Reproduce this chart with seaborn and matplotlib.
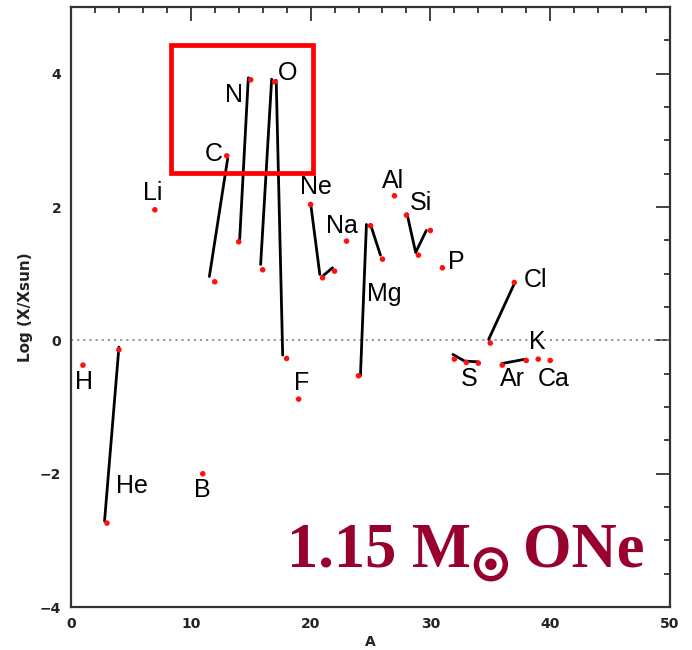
import matplotlib
matplotlib.use("Agg")
import matplotlib.pyplot as plt
import matplotlib.patches as mpatches
import matplotlib.patheffects as pe
from matplotlib.ticker import MultipleLocator
import numpy as np
import pandas as pd
import seaborn as sns

# Isotope abundances relative to solar: mass number and log overproduction
iso_A = [1, 3, 4, 7, 11, 12, 13, 14, 15, 16, 17, 18, 19, 20, 21, 22, 23,
         24, 25, 26, 27, 28, 29, 30, 31, 32, 33, 34, 35, 36, 37, 38, 39, 40]
iso_logx = [-0.37, -2.74, -0.14, 1.96, -2.00, 0.88, 2.77, 1.48, 3.91, 1.06,
            3.88, -0.27, -0.88, 2.04, 0.94, 1.04, 1.49, -0.53, 1.72, 1.22,
            2.17, 1.88, 1.28, 1.65, 1.09, -0.28, -0.33, -0.34, -0.04, -0.37,
            0.87, -0.30, -0.28, -0.30]

# Connecting segments between isotopes of the same element
seg_id = ["He", "He", "C", "C", "N", "N", "Oa", "Oa", "Ob", "Ob",
          "Nea", "Nea", "Neb", "Neb", "Mga", "Mga", "Mgb", "Mgb",
          "Si", "Si", "Si", "S", "S", "S", "Cl", "Cl", "Ar", "Ar"]
seg_A = [2.8, 4.0, 13.08, 11.55, 14.8, 14.08, 16.75, 15.83, 17.13, 17.67,
         20.0, 20.77, 21.0, 21.83, 24.16, 24.66, 25.0, 25.83,
         28.05, 28.77, 29.66, 31.88, 32.86, 33.97, 34.86, 37.0, 36.0, 37.8]
seg_logx = [-2.71, -0.10, 2.73, 0.96, 3.94, 1.52, 3.92, 1.14, 3.90, -0.22,
            2.06, 0.99, 0.965, 1.09, -0.53, 1.74, 1.74, 1.28,
            1.90, 1.32, 1.65, -0.21, -0.31, -0.32, 0.015, 0.85, -0.345, -0.285]

# Element names and where they are written
el_names = ["H", "He", "Li", "B", "C", "N", "O", "F", "Ne", "Na", "Mg", "Al",
            "Si", "P", "S", "Cl", "Ar", "K", "Ca"]
el_A = [1.05, 5.11, 6.81, 10.92, 11.88, 13.6, 18.1, 19.27, 20.44, 22.6, 26.16,
        26.89, 29.19, 32.17, 33.22, 38.76, 36.87, 38.92, 40.3]
el_logx = [-0.725, -2.287, 2.10, -2.353, 2.69, 3.58, 3.90, -0.736, 2.19, 1.617,
           0.59, 2.29, 1.95, 1.077, -0.686, 0.806, -0.676, -0.135, -0.676]

x_ticks = [0, 10, 20, 30, 40, 50]
y_ticks = [-4, -2, 0, 2, 4]

sns.set_style("white")
plt.rcParams["font.family"] = ["DejaVu Sans"]

iso_df = pd.DataFrame({"A": iso_A, "logx": iso_logx})
seg_df = pd.DataFrame({"seg": seg_id, "A": seg_A, "logx": seg_logx})

fig = plt.figure(figsize=(6.92, 6.50), dpi=100)
ax = fig.add_axes([0.1026, 0.066, 0.8656, 0.923])

# solar reference line
ax.axhline(0, color="#8c8c8c", lw=1.3, ls=(0, (1.2, 2.2)), zorder=1)

sns.lineplot(data=seg_df, x="A", y="logx", units="seg", estimator=None,
             sort=False, color="black", lw=2.0, ax=ax, zorder=2, legend=False)
sns.scatterplot(data=iso_df, x="A", y="logx", color="#ff1010", s=16,
                edgecolor="none", ax=ax, zorder=3, legend=False)

for name, xa, ya in zip(el_names, el_A, el_logx):
    ax.text(xa, ya, name, ha="center", va="baseline", fontsize=18,
            family="Liberation Sans", color="black", zorder=4)

# highlight box around the CNO group
ax.add_patch(mpatches.Rectangle((8.33, 2.517), 20.17 - 8.33, 4.435 - 2.517,
                                fill=False, edgecolor="#ff0000", lw=3.4,
                                zorder=5))

# model annotation
crimson = "#98002e"
ax.text(0.36, 0.068, "1.15 M", transform=ax.transAxes, ha="left",
        va="baseline", fontsize=45, fontweight="bold",
        family="Liberation Serif", color=crimson)
ax.text(0.701, 0.066, "\u2609", transform=ax.transAxes, ha="center",
        va="center", fontsize=30, fontweight="bold", family="DejaVu Sans",
        color=crimson,
        path_effects=[pe.withStroke(linewidth=2.8, foreground=crimson)])
ax.text(0.7546, 0.068, "ONe", transform=ax.transAxes, ha="left",
        va="baseline", fontsize=45, fontweight="bold",
        family="Liberation Serif", color=crimson)

ax.set_xlim(0, 50)
ax.set_ylim(-4, 5)
ax.set_xticks(x_ticks)
ax.set_yticks(y_ticks)
ax.set_xticklabels([str(t) for t in x_ticks])
ax.set_yticklabels([str(t).replace("-", "\u2212") for t in y_ticks])
ax.xaxis.set_minor_locator(MultipleLocator(2))
ax.yaxis.set_minor_locator(MultipleLocator(0.5))
ax.tick_params(which="both", direction="in", top=True, right=True,
               colors="#333333", width=1.3)
ax.tick_params(which="major", length=10, labelsize=10, pad=7,
               labelcolor="#222222")
ax.tick_params(which="minor", length=4.5)
for lbl in ax.get_xticklabels() + ax.get_yticklabels():
    lbl.set_fontweight("bold")
for sp in ax.spines.values():
    sp.set_color("#333333")
    sp.set_linewidth(1.6)

ax.set_xlabel("A", fontsize=10, fontweight="bold", color="#222222", labelpad=3)
ax.set_ylabel("Log (X/Xsun)", fontsize=11, fontweight="bold",
              color="#222222", labelpad=5)

fig.savefig("out.png", dpi=100)
